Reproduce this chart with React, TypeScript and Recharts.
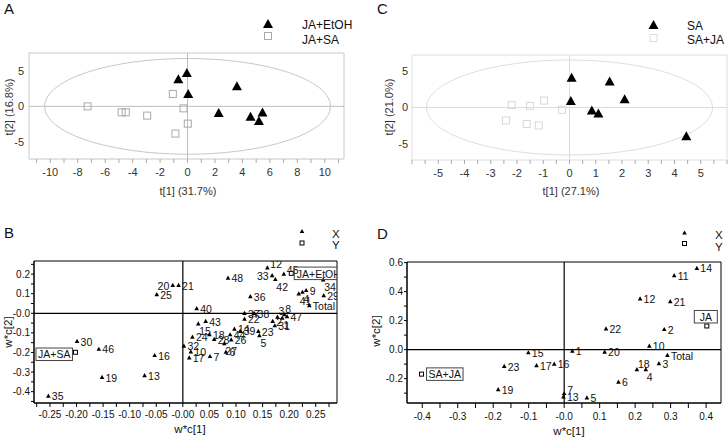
import React from 'react';
import { ScatterChart, Scatter, XAxis, YAxis, ReferenceLine, ReferenceArea } from 'recharts';

const FONT = '"Liberation Sans", Arial, Helvetica, sans-serif';

// A: score plot, JA+EtOH vs JA+SA
const aJaEtoh = [
    { x: -0.05, y: 4.77 }, { x: -0.67, y: 3.88 }, { x: 0.05, y: 1.82 }, { x: 3.6, y: 2.9 },
    { x: 2.27, y: -0.88 }, { x: 4.59, y: -1.4 }, { x: 5.2, y: -2.0 }, { x: 5.46, y: -0.79 },
];
const aJaSa = [
    { x: -7.28, y: 0 }, { x: -4.8, y: -0.84 }, { x: -4.5, y: -0.84 }, { x: -2.94, y: -1.3 },
    { x: -1.07, y: 1.74 }, { x: -0.29, y: -0.28 }, { x: 0.02, y: -2.43 }, { x: -0.88, y: -3.83 },
];

// C: score plot, SA vs SA+JA
const cSa = [
    { x: 0.08, y: 4.18 }, { x: 1.53, y: 3.67 }, { x: 0.05, y: 0.96 }, { x: 2.1, y: 1.2 },
    { x: 0.85, y: -0.36 }, { x: 1.1, y: -0.77 }, { x: 4.45, y: -3.9 },
];
const cSaJa = [
    { x: -2.2, y: 0.33 }, { x: -1.5, y: 0.23 }, { x: -0.97, y: 0.96 }, { x: -0.28, y: -0.32 },
    { x: -2.42, y: -1.79 }, { x: -1.63, y: -2.28 }, { x: -1.17, y: -2.48 },
];

// B: loadings w*c, X variables and Y responses
const bX = [
    { name: '20', x: -0.019, y: 0.145 }, { name: '21', x: -0.008, y: 0.145 }, { name: '25', x: -0.049, y: 0.098 },
    { name: '30', x: -0.199, y: -0.141 }, { name: '46', x: -0.158, y: -0.181 }, { name: '16', x: -0.053, y: -0.213 },
    { name: '19', x: -0.152, y: -0.325 }, { name: '13', x: -0.072, y: -0.316 }, { name: '35', x: -0.253, y: -0.42 },
    { name: '48', x: 0.085, y: 0.182 }, { name: '36', x: 0.127, y: 0.088 }, { name: '40', x: 0.026, y: 0.026 },
    { name: '37', x: 0.116, y: 0.002 }, { name: '38', x: 0.134, y: 0.002 }, { name: '22', x: 0.116, y: -0.027 },
    { name: '43', x: 0.043, y: -0.039 }, { name: '15', x: 0.029, y: -0.051 }, { name: '24', x: 0.018, y: -0.119 },
    { name: '18', x: 0.05, y: -0.106 }, { name: '28', x: 0.059, y: -0.131 }, { name: '14', x: 0.097, y: -0.078 },
    { name: '44', x: 0.089, y: -0.107 }, { name: '39', x: 0.108, y: -0.088 }, { name: '26', x: 0.091, y: -0.133 },
    { name: '27', x: 0.078, y: -0.153 }, { name: '6', x: 0.081, y: -0.196 }, { name: '7', x: 0.051, y: -0.218 },
    { name: '32', x: 0.002, y: -0.165 }, { name: '10', x: 0.015, y: -0.195 }, { name: '17', x: 0.012, y: -0.225 },
    { name: '23', x: 0.142, y: -0.09 }, { name: '5', x: 0.144, y: -0.111 }, { name: '31', x: 0.173, y: -0.061 },
    { name: '2', x: 0.169, y: -0.039 }, { name: '3', x: 0.178, y: -0.017 }, { name: '1', x: 0.187, y: -0.022 },
    { name: '8', x: 0.191, y: -0.005 }, { name: '47', x: 0.196, y: -0.014 }, { name: '12', x: 0.159, y: 0.234 },
    { name: '45', x: 0.19, y: 0.203 }, { name: '33', x: 0.168, y: 0.195 }, { name: '42', x: 0.174, y: 0.175 },
    { name: '34', x: 0.264, y: 0.173 }, { name: '9', x: 0.232, y: 0.119 }, { name: '4', x: 0.225, y: 0.11 },
    { name: '41', x: 0.218, y: 0.102 }, { name: '29', x: 0.265, y: 0.093 }, { name: 'Total', x: 0.238, y: 0.042 },
];
const bY = [
    { name: 'JA+EtOH', x: 0.204, y: 0.204 },
    { name: 'JA+SA', x: -0.202, y: -0.199 },
];

// D: loadings w*c, X variables and Y responses
const dX = [
    { name: '14', x: 0.374, y: 0.564 }, { name: '11', x: 0.31, y: 0.513 }, { name: '12', x: 0.214, y: 0.353 },
    { name: '21', x: 0.299, y: 0.334 }, { name: '22', x: 0.118, y: 0.147 }, { name: '2', x: 0.282, y: 0.142 },
    { name: '10', x: 0.24, y: 0.027 }, { name: '1', x: 0.023, y: -0.007 }, { name: '20', x: 0.114, y: -0.014 },
    { name: 'Total', x: 0.291, y: -0.036 }, { name: '3', x: 0.267, y: -0.093 }, { name: '18', x: 0.205, y: -0.135 },
    { name: '4', x: 0.23, y: -0.135 }, { name: '6', x: 0.153, y: -0.22 }, { name: '7', x: 0.0, y: -0.299 },
    { name: '13', x: -0.002, y: -0.323 }, { name: '5', x: 0.064, y: -0.329 }, { name: '16', x: -0.028, y: -0.096 },
    { name: '17', x: -0.078, y: -0.107 }, { name: '15', x: -0.101, y: -0.018 }, { name: '23', x: -0.169, y: -0.112 },
    { name: '19', x: -0.186, y: -0.272 },
];
const dY = [
    { name: 'JA', x: 0.402, y: 0.163 },
    { name: 'SA+JA', x: -0.402, y: -0.169 },
];

// tick marks and labels
const aXLabelVals = [-10, -8, -6, -4, -2, 0, 2, 4, 6, 8, 10];
const aXLabels = ['-10', '-8', '-6', '-4', '-2', '0', '2', '4', '6', '8', '10'];
const scoreYVals = [-5, 0, 5];
const scoreYLabels = ['-5', '0', '5'];
const cXLabelVals = [-5, -4, -3, -2, -1, 0, 1, 2, 3, 4, 5];
const cXLabels = ['-5', '-4', '-3', '-2', '-1', '0', '1', '2', '3', '4', '5'];
const bXLabelVals = [-0.25, -0.2, -0.15, -0.1, -0.05, 0, 0.05, 0.1, 0.15, 0.2, 0.25];
const bXLabels = ['-0.25', '-0.20', '-0.15', '-0.10', '-0.05', '-0.00', '0.05', '0.10', '0.15', '0.20', '0.25'];
const bYLabelVals = [-0.4, -0.3, -0.2, -0.1, 0, 0.1, 0.2];
const bYLabels = ['-0.4', '-0.3', '-0.2', '-0.1', '-0.0', '0.1', '0.2'];
const dXLabelVals = [-0.4, -0.3, -0.2, -0.1, 0, 0.1, 0.2, 0.3, 0.4];
const dXLabels = ['-0.4', '-0.3', '-0.2', '-0.1', '-0.0', '0.1', '0.2', '0.3', '0.4'];
const dYLabelVals = [-0.2, 0, 0.2, 0.4, 0.6];
const dYLabels = ['-0.2', '0.0', '0.2', '0.4', '0.6'];

// where the variable names sit relative to their marker (default: right)
const bPlace: Record<string, string> = {
    '20': 'l', '33': 'l', '42': 'b', '34': 'b', '41': 'b', '4': 'b', '1': 'b', '5': 'b',
    '15': 'b', '27': 'b', '3': 'a', '8': 'a', '12': 'u', '45': 'u',
};
const dPlace: Record<string, string> = { '18': 'a', '7': 'u', '4': 'b' };
const bBox: Record<string, string> = { 'JA+EtOH': 'r', 'JA+SA': 'l' };
const dBox: Record<string, string> = { 'JA': 'a', 'SA+JA': 'r' };

const steps = (from: number, to: number, step: number) => {
    const out: number[] = [];
    for (let i = 0; from + i * step <= to + 1e-9; i++) out.push(+(from + i * step).toFixed(4));
    return out;
};
const fmt = (vals: number[], labels: string[]) => (v: number) => {
    const i = vals.findIndex(m => Math.abs(m - v) < 1e-6);
    return i >= 0 ? labels[i] : '';
};

const tri = (cx: number, cy: number, w: number, h: number) =>
    `M${cx},${cy - h / 2} L${cx + w / 2},${cy + h / 2} L${cx - w / 2},${cy + h / 2} Z`;

const BigTriangle = (p: any) => <path d={tri(p.cx, p.cy, 10, 9)} fill="#000" />;
const squareOf = (color: string) => (p: any) => (
    <rect x={p.cx - 3.5} y={p.cy - 3.5} width={7} height={7} fill="none" stroke={color} strokeWidth={1} />
);

const loadingShape = (place: Record<string, string>) => (p: any) => {
    const { cx, cy, payload } = p;
    const where = place[payload.name] ?? 'r';
    let tx = cx + 3.5, ty = cy + 1, anchor = 'start';
    if (where === 'l') { tx = cx - 3.5; anchor = 'end'; }
    if (where === 'b') { tx = cx + 1; ty = cy + 8; }
    if (where === 'a') { tx = cx + 1; ty = cy - 5; }
    if (where === 'u') { tx = cx + 3; ty = cy - 3; }
    return (
        <g>
            <path d={tri(cx, cy, 4.6, 4.2)} fill="#000" />
            <text x={tx} y={ty} dy="0.35em" fontSize={10.5} textAnchor={anchor as any} fontFamily={FONT} fill="#111">
                {payload.name}
            </text>
        </g>
    );
};

const responseShape = (place: Record<string, string>) => (p: any) => {
    const { cx, cy, payload } = p;
    const where = place[payload.name] ?? 'r';
    const w = Math.max(payload.name.length * 6.3 + 5, 23);
    const h = 12.5;
    let bx = cx + 3, by = cy - h / 2;
    if (where === 'l') { bx = cx - 3 - w; by = cy - h / 2 + 2; }
    if (where === 'a') { bx = cx - 1 - w / 2; by = cy - 3 - h; }
    if (payload.name === 'SA+JA') bx = cx + 5;
    return (
        <g>
            <rect x={cx - 2} y={cy - 2} width={4} height={4} fill="#fff" stroke="#000" strokeWidth={1} />
            <rect x={bx} y={by} width={w} height={h} fill="none" stroke="#444" strokeWidth={1} />
            <text x={bx + w / 2} y={by + h / 2 + 0.5} dy="0.35em" fontSize={10.5} textAnchor="middle" fontFamily={FONT} fill="#111">
                {payload.name}
            </text>
        </g>
    );
};

const ellipseShape = (color: string) => (p: any) => (
    <ellipse cx={p.x + p.width / 2} cy={p.y + p.height / 2} rx={Math.abs(p.width) / 2} ry={Math.abs(p.height) / 2}
        fill="none" stroke={color} strokeWidth={1} />
);

const scoreTick = { fontSize: 11, fill: '#333', fontFamily: FONT };
const loadTick = { fontSize: 10, fill: '#111', fontFamily: FONT };

function ScorePanel({ left, xDomain, yDomain, xTicks, xFmt, yWidth, marginTop, marginRight, ell, frame, zero, sqColor, black, grey }: any) {
    return (
        <div style={{ position: 'absolute', left, top: 0 }}>
            <ScatterChart width={364} height={220} margin={{ top: marginTop, right: marginRight, bottom: 0, left: 0 }}>
                <XAxis type="number" dataKey="x" domain={xDomain} allowDataOverflow ticks={xTicks} interval={0}
                    tickFormatter={xFmt} axisLine={false} tickLine={{ stroke: '#aaa' }} tickSize={4} tickMargin={5}
                    height={220 - 160 + (marginTop === 53 ? 1 : 0)} tick={scoreTick} />
                <YAxis type="number" dataKey="y" domain={yDomain} allowDataOverflow ticks={scoreYVals} interval={0}
                    tickFormatter={fmt(scoreYVals, scoreYLabels)} axisLine={false} tickLine={false} tickSize={0}
                    tickMargin={yWidth > 40 ? 4 : 5} width={yWidth} tick={scoreTick} />
                <ReferenceArea x1={xDomain[0]} x2={xDomain[1]} y1={yDomain[0]} y2={yDomain[1]} fill="none" fillOpacity={0}
                    stroke={frame} strokeWidth={1} />
                <ReferenceLine x={0} stroke={zero} strokeWidth={1} />
                <ReferenceLine y={0} stroke={zero} strokeWidth={1} />
                <ReferenceArea x1={-ell[0]} x2={ell[0]} y1={-ell[1]} y2={ell[1]} shape={ellipseShape(frame)} />
                <Scatter data={grey} shape={squareOf(sqColor)} isAnimationActive={false} />
                <Scatter data={black} shape={BigTriangle} isAnimationActive={false} />
            </ScatterChart>
        </div>
    );
}

function LoadingPanel({ left, width, xDomain, yDomain, xTicks, xFmt, yTicks, yFmt, yWidth, marginTop, marginRight, xTickSize, xTickMargin, xs, ys, place, box }: any) {
    return (
        <div style={{ position: 'absolute', left, top: 220 }}>
            <ScatterChart width={width} height={219} margin={{ top: marginTop, right: marginRight, bottom: 0, left: 0 }}>
                <XAxis type="number" dataKey="x" domain={xDomain} allowDataOverflow ticks={xTicks} interval={0}
                    tickFormatter={xFmt} axisLine={{ stroke: '#000' }} tickLine={{ stroke: '#000' }}
                    tickSize={xTickSize} tickMargin={xTickMargin} height={36} tick={loadTick} />
                <YAxis type="number" dataKey="y" domain={yDomain} allowDataOverflow ticks={yTicks} interval={0}
                    tickFormatter={yFmt} axisLine={{ stroke: '#000' }} tickLine={{ stroke: '#000' }}
                    tickSize={3} tickMargin={1} width={yWidth} tick={loadTick} />
                <ReferenceArea x1={xDomain[0]} x2={xDomain[1]} y1={yDomain[0]} y2={yDomain[1]} fill="none" fillOpacity={0}
                    stroke="#000" strokeWidth={1} />
                <ReferenceLine x={0} stroke="#000" strokeWidth={1.2} />
                <ReferenceLine y={0} stroke="#000" strokeWidth={1.2} />
                <Scatter data={xs} shape={loadingShape(place)} isAnimationActive={false} />
                <Scatter data={ys} shape={responseShape(box)} isAnimationActive={false} />
            </ScatterChart>
        </div>
    );
}

function Overlay() {
    const t = (x: number, y: number, s: string, size: number, extra: any = {}) => (
        <text x={x} y={y} dy="0.35em" fontSize={size} fontFamily={FONT} fill="#111" {...extra}>{s}</text>
    );
    return (
        <svg width={728} height={439} style={{ position: 'absolute', left: 0, top: 0, pointerEvents: 'none' }}>
            {t(4, 9, 'A', 15)}
            {t(377, 9, 'C', 15)}
            {t(4, 233, 'B', 15)}
            {t(377, 234, 'D', 15)}

            {t(188, 191, 't[1] (31.7%)', 11, { textAnchor: 'middle', fill: '#333' })}
            {t(571, 191, 't[1] (27.1%)', 11, { textAnchor: 'middle', fill: '#333' })}
            {t(190, 429, 'w*c[1]', 11.5, { textAnchor: 'middle' })}
            {t(569, 431, 'w*c[1]', 11.5, { textAnchor: 'middle' })}
            <g transform="translate(9,107) rotate(-90)">{t(0, 0, 't[2] (16.8%)', 11, { textAnchor: 'middle', fill: '#333' })}</g>
            <g transform="translate(389,107) rotate(-90)">{t(0, 0, 't[2] (21.0%)', 11, { textAnchor: 'middle', fill: '#333' })}</g>
            <g transform="translate(8,332) rotate(-90)">{t(0, 0, 'w*c[2]', 11.5, { textAnchor: 'middle' })}</g>
            <g transform="translate(376,331) rotate(-90)">{t(0, 0, 'w*c[2]', 11.5, { textAnchor: 'middle' })}</g>

            <path d={tri(268, 23.5, 10, 9)} fill="#000" />
            {t(302, 25, 'JA+EtOH', 12)}
            <rect x={264.5} y={32.5} width={7} height={7} fill="none" stroke="#aaa" />
            {t(302, 39.5, 'JA+SA', 12)}

            <path d={tri(653.5, 24.5, 10, 9)} fill="#000" />
            {t(687, 25.5, 'SA', 12)}
            <rect x={650} y={34.5} width={7} height={7} fill="none" stroke="#ddd" />
            {t(687, 39.5, 'SA+JA', 12)}

            <path d={tri(302, 231, 4.6, 4.2)} fill="#000" />
            {t(332, 233.5, 'X', 11.5)}
            <rect x={300} y={241} width={4} height={4} fill="#fff" stroke="#000" />
            {t(332, 245, 'Y', 11.5)}

            <path d={tri(684.5, 232.5, 4.6, 4.2)} fill="#000" />
            {t(715, 235, 'X', 11.5)}
            <rect x={682.5} y={241.5} width={4} height={4} fill="#fff" stroke="#000" />
            {t(715, 246.5, 'Y', 11.5)}
        </svg>
    );
}

export default function App() {
    return (
        <div style={{ position: 'absolute', left: 0, top: 0, width: 728, height: 439, background: '#fff', fontFamily: FONT }}>
            <ScorePanel left={0} xDomain={[-11.55, 11.4]} yDomain={[-7.4, 7.5]} xTicks={steps(-11, 11, 1)}
                xFmt={fmt(aXLabelVals, aXLabels)} yWidth={29} marginTop={53} marginRight={20}
                ell={[10.42, 6.73]} frame="#c8c8c8" zero="#bdbdbd" sqColor="#aaa" black={aJaEtoh} grey={aJaSa} />
            <ScorePanel left={364} xDomain={[-6, 6]} yDomain={[-7.25, 7.25]} xTicks={steps(-6, 6, 0.5)}
                xFmt={fmt(cXLabelVals, cXLabels)} yWidth={48} marginTop={55} marginRight={1}
                ell={[5.45, 6.56]} frame="#dedede" zero="#dcdcdc" sqColor="#d8d8d8" black={cSa} grey={cSaJa} />
            <LoadingPanel left={0} width={364} xDomain={[-0.28, 0.29]} yDomain={[-0.458, 0.267]}
                xTicks={steps(-0.275, 0.275, 0.025)} xFmt={fmt(bXLabelVals, bXLabels)}
                yTicks={steps(-0.45, 0.25, 0.05)} yFmt={fmt(bYLabelVals, bYLabels)} yWidth={34}
                marginTop={41} marginRight={27} xTickSize={4} xTickMargin={4}
                xs={bX} ys={bY} place={bPlace} box={bBox} />
            <LoadingPanel left={364} width={364} xDomain={[-0.443, 0.442]} yDomain={[-0.368, 0.604]}
                xTicks={steps(-0.4, 0.4, 0.05)} xFmt={fmt(dXLabelVals, dXLabels)}
                yTicks={steps(-0.3, 0.6, 0.1)} yFmt={fmt(dYLabelVals, dYLabels)} yWidth={43}
                marginTop={42} marginRight={7} xTickSize={5} xTickMargin={5}
                xs={dX} ys={dY} place={dPlace} box={dBox} />
            <Overlay />
        </div>
    );
}
